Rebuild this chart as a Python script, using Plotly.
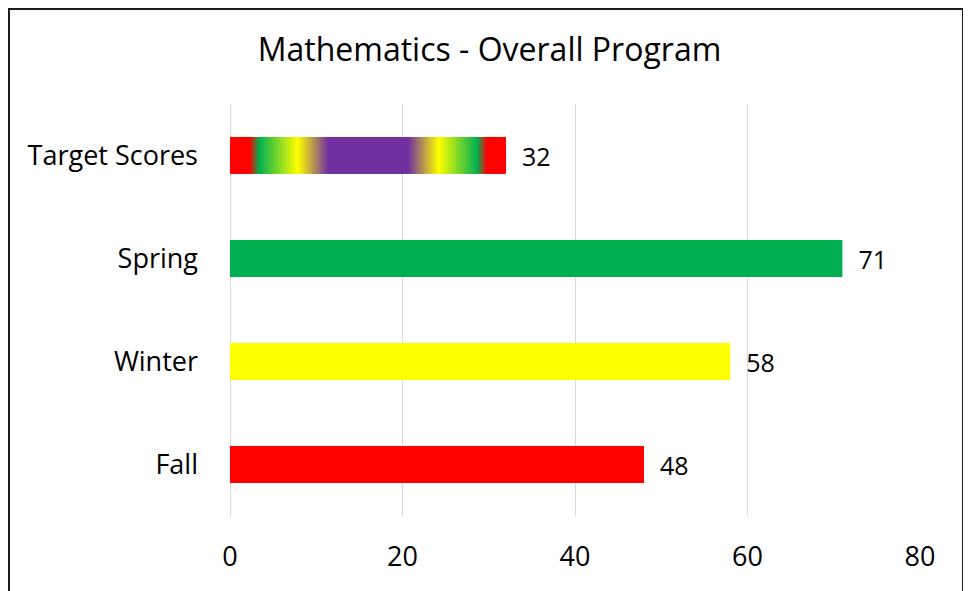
import numpy as np
import plotly.graph_objects as go

categories = ["Fall", "Winter", "Spring", "Target Scores"]
values = [48, 58, 71, 32]
bar_colors = ["#FF0000", "#FFFF00", "#00B050", "rgba(0,0,0,0)"]
x_ticks = [0, 20, 40, 60, 80]
title = "Mathematics - Overall Program"

# gradient stops for the Target Scores bar (centre -> edge)
grad_stops = [[0.0, "#7030A0"], [0.29, "#7030A0"], [0.51, "#FFFF00"],
              [0.79, "#00B050"], [0.86, "#FF0000"], [1.0, "#FF0000"]]

pos = list(range(len(categories)))
bar_w = 0.36
FONT = "Open Sans"

# page body has an 8px default margin, so the figure is drawn 8px in
W, H = 963, 583
L, R, T, B = 222, 51, 96, 75
PW, PH = W - L - R, H - T - B

fig = go.Figure()

# gradient fill of the target bar
tgt = values[3]
n = 552
xe = np.linspace(0, tgt, n + 1)
xc = (xe[:-1] + xe[1:]) / 2
z = [list(np.abs(xc - tgt / 2) / (tgt / 2))]
fig.add_trace(go.Heatmap(
    x=xe, y=[pos[3] - bar_w / 2, pos[3] + bar_w / 2], z=z,
    colorscale=grad_stops, zmin=0, zmax=1, showscale=False,
    hoverinfo="skip"))

fig.add_trace(go.Bar(
    x=values, y=pos, orientation="h", width=bar_w,
    marker=dict(color=bar_colors, line=dict(width=0)),
    text=[f"  {v}" for v in values], textposition="outside",
    textfont=dict(family=FONT, size=25, color="#000000"),
    cliponaxis=False, showlegend=False))

fig.update_layout(
    width=W, height=H,
    margin=dict(l=L, r=R, t=T, b=B),
    paper_bgcolor="white", plot_bgcolor="white",
    title=dict(text=title, x=0.5, xref="container", xanchor="center",
               y=1 - 42 / H, yanchor="middle", yref="container",
               font=dict(family=FONT, size=32, color="#000000")),
    showlegend=False,
    font=dict(family=FONT, color="#000000"),
)
fig.update_xaxes(range=[0, 80], tickvals=x_ticks, showgrid=True,
                 gridcolor="#D9D9D9", gridwidth=1, zeroline=True,
                 zerolinecolor="#D9D9D9", zerolinewidth=1, showline=False,
                 ticks="", ticklabelstandoff=22,
                 tickfont=dict(family=FONT, size=27, color="#000000"))
fig.update_yaxes(range=[-0.5, 3.5], tickvals=pos, ticktext=categories,
                 showgrid=False, zeroline=False, showline=False, ticks="",
                 ticklabelstandoff=31,
                 tickfont=dict(family=FONT, size=27, color="#000000"))

# outer chart border
fig.add_shape(type="rect", xref="paper", yref="paper",
              x0=(1 - L) / PW, x1=(955 - L) / PW,
              y0=-0.3, y1=(T + PH - 1) / PH,
              line=dict(color="#1a1a1a", width=2), fillcolor="rgba(0,0,0,0)",
              layer="below")

fig.write_html("out.html")
